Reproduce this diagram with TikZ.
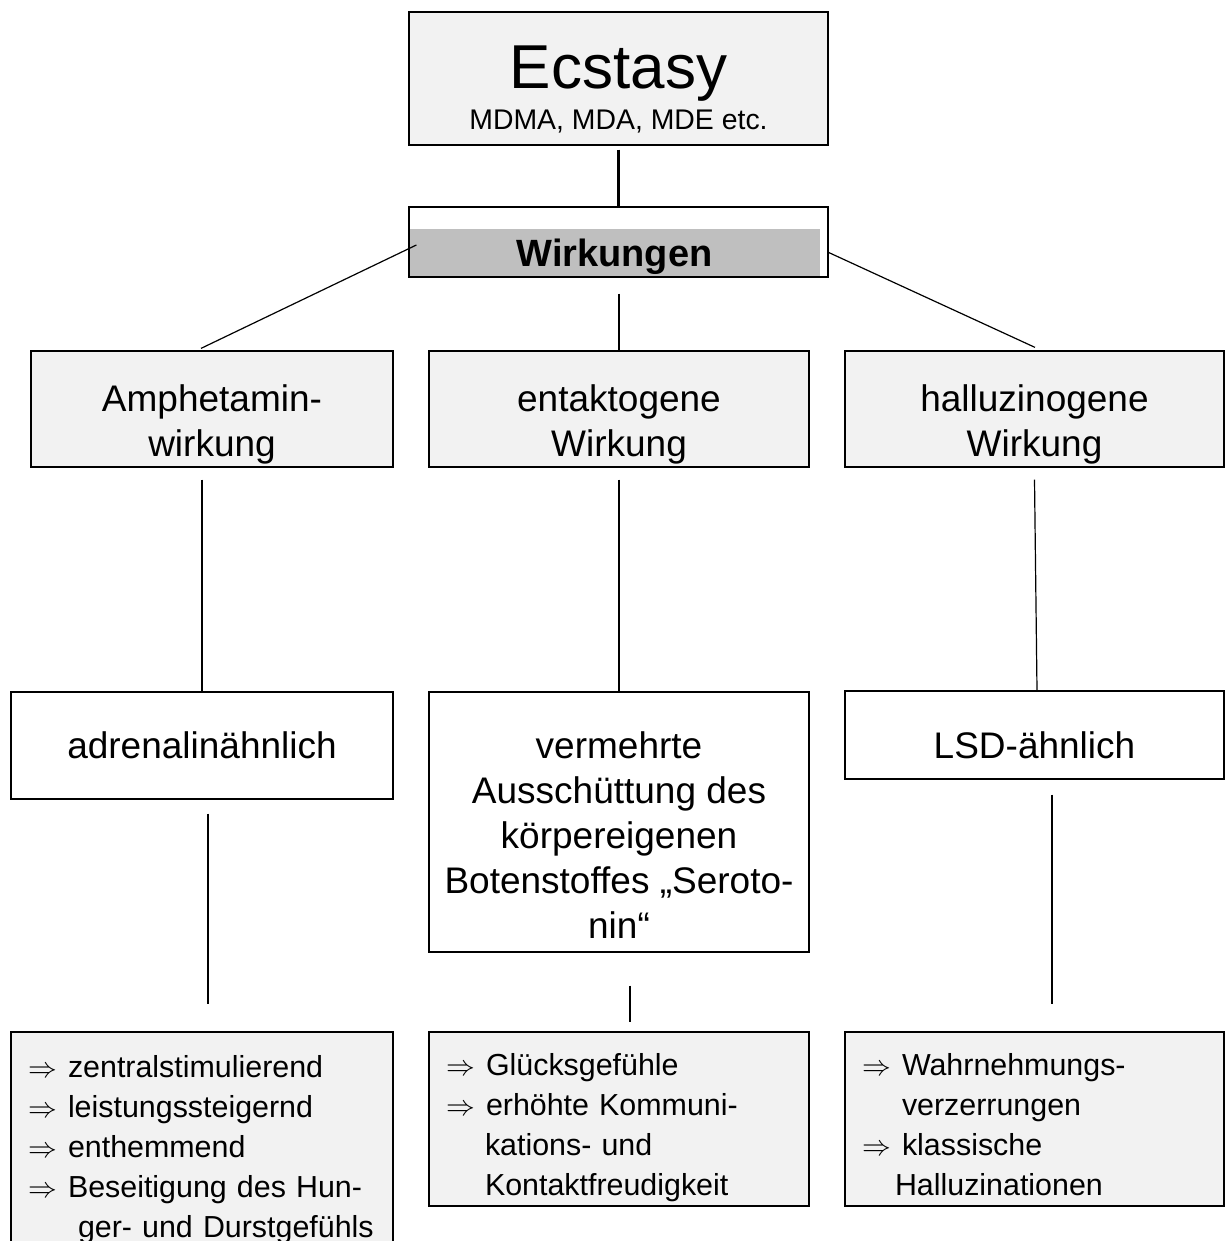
\documentclass[tikz,border=0pt]{standalone}
\usepackage{fontspec}
\setmainfont{Liberation Sans}
\usetikzlibrary{calc}

\newcommand{\folge}[1]{\mbox{\makebox[20pt][l]{$\Rightarrow$}#1}}
\newcommand{\weiter}[2][20pt]{\mbox{\hspace*{#1}#2}}

\begin{document}
\begin{tikzpicture}[x=0.5pt,y=-0.5pt,
    box/.style={draw,line width=0.6pt,inner sep=0pt,align=center,fill=white,
      font=\fontsize{18.5}{22.5}\selectfont},
    greybox/.style={box,fill=gray!10},
    listbox/.style={greybox,align=left,minimum width=#1,text width=#1-17pt,
      font=\fontsize{15.2}{20}\selectfont},
    link/.style={line width=1.1pt},
    thinlink/.style={line width=0.6pt}]
  \useasboundingbox (0,0) rectangle (1225,1241);
  % Boxes
  % -- top
  \node[greybox,minimum width=209.5pt,text height=59pt,text depth=7.5pt,
    font=\fontsize{14.2}{20.5}\selectfont] (ecstasy) at (618.5,78.5)
    {{\fontsize{31}{31}\selectfont Ecstasy}\\MDMA, MDA, MDE etc.};
  \node[box,minimum width=209.5pt,text height=29.5pt,text depth=5.5pt,
    font=\fontsize{19}{22}\selectfont\bfseries,
    path picture={\fill[gray!50]
      ($(path picture bounding box.south west)+(0,-1)$) rectangle
      ($(path picture bounding box.north east)+(-8,22)$);}]
    (wirk) at (618.5,242) {Wirkungen\hspace*{4pt}};
  % -- first row
  \node[greybox,minimum width=181pt,text height=52.5pt,text depth=5.5pt]
    (amph) at (212,409) {Amphetamin-\\wirkung};
  \node[greybox,minimum width=190pt,text height=52.5pt,text depth=5.5pt]
    (entak) at (619,409) {entaktogene\\Wirkung};
  \node[greybox,minimum width=189.5pt,text height=52.5pt,text depth=5.5pt]
    (hallu) at (1034.5,409) {halluzinogene\\Wirkung};
  % -- second row
  \node[box,minimum width=191pt,text height=33pt,text depth=20.5pt]
    (adren) at (202,745.5) {adrenalinähnlich};
  \node[box,minimum width=190pt,text height=123pt,text depth=7pt]
    (verm) at (619,822)
    {vermehrte\\Ausschüttung des\\körpereigenen\\Botenstoffes „Seroto-\\nin“};
  \node[box,minimum width=189.5pt,text height=33.5pt,text depth=10.5pt]
    (lsd) at (1034.5,735) {LSD-ähnlich};
  % -- lists
  \node[listbox=191pt,text height=22.5pt,text depth=89.5pt]
    (list1) at (202,1144)
    {\folge{zentralstimulierend}\\
     \folge{leistungssteigernd}\\
     \folge{enthemmend}\\
     \folge{Beseitigung des Hun-}\\
     \weiter[25pt]{ger- und Durstgefühls}};
  \node[listbox=190pt,text height=21.5pt,text depth=65.5pt]
    (list2) at (619,1119)
    {\folge{Glücksgefühle}\\
     \folge{erhöhte Kommuni-}\\
     \weiter[19.5pt]{kations- und}\\
     \weiter[19.5pt]{Kontaktfreudigkeit}};
  \node[listbox=189.5pt,text height=21.5pt,text depth=65.5pt]
    (list3) at (1034.5,1119)
    {\folge{Wahrnehmungs-}\\
     \weiter{verzerrungen}\\
     \folge{klassische}\\
     \weiter[16.5pt]{Halluzinationen}};
  % Links
  \draw[link] ($(ecstasy.south)+(0,4)$) -- (wirk.north);
  \draw[thinlink] ($(wirk.west)+(8,3)$) -- ($(amph.north)+(-11,-2)$);
  \draw[link] ($(wirk.south)+(0.5,16)$) -- (entak.north);
  \draw[thinlink] ($(wirk.east)+(-1,10)$) -- ($(hallu.north)+(0.5,-3)$);
  \draw[link] ($(amph.south)+(-10,12)$) -- (adren.north);
  \draw[link] ($(entak.south)+(0,12)$) -- (verm.north);
  \draw[thinlink] ($(hallu.south)+(0,12)$) -- ($(lsd.north)+(2.5,0)$);
  \draw[link] ($(adren.south)+(6,14)$) -- ($(list1.north)+(6,-27)$);
  \draw[link] ($(verm.south)+(11,33)$) -- ($(list2.north)+(11,-9)$);
  \draw[link] ($(lsd.south)+(17.5,15)$) -- ($(list3.north)+(17.5,-27)$);
\end{tikzpicture}
\end{document}
